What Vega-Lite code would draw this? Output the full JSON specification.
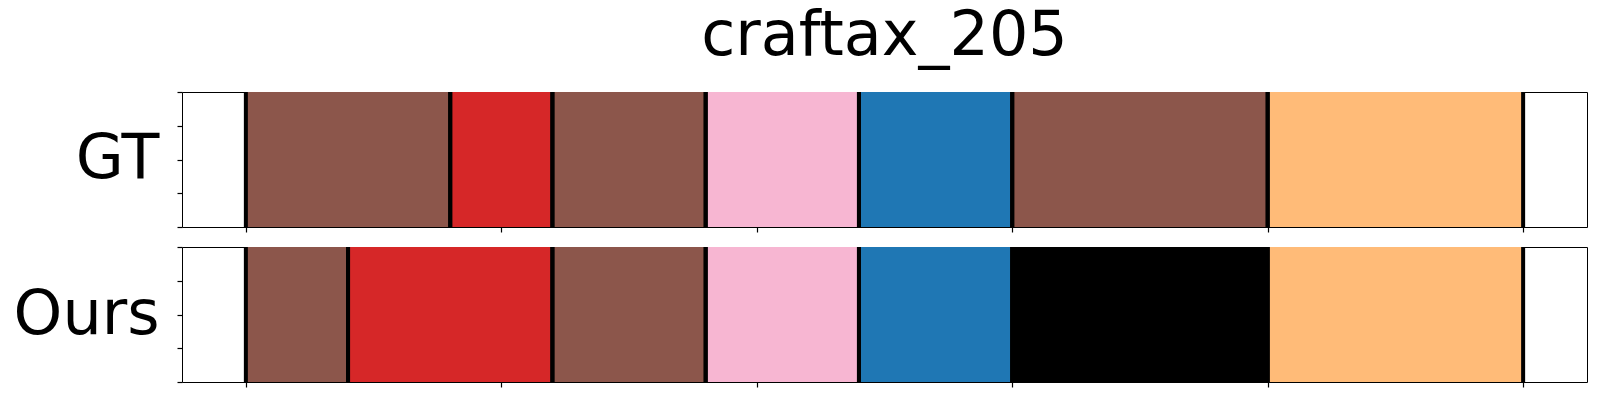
{
  "$schema": "https://vega.github.io/schema/vega-lite/v6.json",
  "background": "white",
  "padding": {"left": 12, "top": 4, "right": 10, "bottom": 0},
  "datasets": {
    "segments": [
      {"panel": "GT", "start": 0, "end": 40, "action": "a10"},
      {"panel": "GT", "start": 40, "end": 60, "action": "a6"},
      {"panel": "GT", "start": 60, "end": 90, "action": "a10"},
      {"panel": "GT", "start": 90, "end": 120, "action": "a12"},
      {"panel": "GT", "start": 120, "end": 150, "action": "a0"},
      {"panel": "GT", "start": 150, "end": 200, "action": "a10"},
      {"panel": "GT", "start": 200, "end": 250, "action": "a3"},
      {"panel": "Ours", "start": 0, "end": 20, "action": "a10"},
      {"panel": "Ours", "start": 20, "end": 60, "action": "a6"},
      {"panel": "Ours", "start": 60, "end": 90, "action": "a10"},
      {"panel": "Ours", "start": 90, "end": 120, "action": "a12"},
      {"panel": "Ours", "start": 120, "end": 150, "action": "a0"},
      {"panel": "Ours", "start": 150, "end": 200, "action": "none"},
      {"panel": "Ours", "start": 200, "end": 250, "action": "a3"}
    ]
  },
  "spacing": 20,
  "bounds": "flush",
  "vconcat": [
    {
      "width": 1405,
      "height": 135,
      "title": {"text": "craftax_205", "fontSize": 62, "font": "DejaVu Sans", "fontWeight": "normal", "color": "black", "anchor": "middle", "frame": "group", "baseline": "alphabetic", "offset": -27},
      "data": {"name": "segments"},
      "transform": [{"filter": "datum.panel === 'GT'"}],
      "encoding": {
        "x": {"field": "start", "type": "quantitative", "scale": {"domain": [-12.5, 262.5], "nice": false, "zero": false},
              "axis": {"values": [0, 50, 100, 150, 200, 250], "labels": false, "title": null, "grid": false, "domain": false, "ticks": true, "tickSize": 5, "tickColor": "black", "tickWidth": 1.2}},
        "y": {"datum": 0, "type": "quantitative", "scale": {"domain": [0, 1], "nice": false},
              "axis": {"values": [0, 0.25, 0.5, 0.75, 1], "tickCount": 5, "labels": false, "grid": false, "domain": false, "tickSize": 5, "tickColor": "black", "tickWidth": 1.2,
                       "title": "GT", "titleAngle": 0, "titleAlign": "right", "titleBaseline": "alphabetic", "titleX": -23, "titleY": 85, "titleFontSize": 62, "titleFont": "DejaVu Sans", "titleFontWeight": "normal", "titleColor": "black"}},
        "y2": {"datum": 1}
      },
      "layer": [
        {
          "mark": {"type": "rect"},
          "encoding": {
            "x2": {"field": "end"},
            "color": {"field": "action", "type": "nominal", "legend": null,
                      "scale": {"domain": ["a0", "a3", "a6", "a10", "a12", "none"], "range": ["#1f77b4", "#ffbb78", "#d62728", "#8c564b", "#f7b6d2", "#000000"]}}
          }
        },
        {
          "mark": {"type": "rule", "color": "black", "strokeWidth": 4},
          "encoding": {}
        },
        {
          "mark": {"type": "rule", "color": "black", "strokeWidth": 4},
          "encoding": {"x": {"field": "end", "type": "quantitative"}}
        }
      ]
    },
    {
      "width": 1405,
      "height": 135,
      "data": {"name": "segments"},
      "transform": [{"filter": "datum.panel === 'Ours'"}],
      "encoding": {
        "x": {"field": "start", "type": "quantitative", "scale": {"domain": [-12.5, 262.5], "nice": false, "zero": false},
              "axis": {"values": [0, 50, 100, 150, 200, 250], "labels": false, "title": null, "grid": false, "domain": false, "ticks": true, "tickSize": 5, "tickColor": "black", "tickWidth": 1.2}},
        "y": {"datum": 0, "type": "quantitative", "scale": {"domain": [0, 1], "nice": false},
              "axis": {"values": [0, 0.25, 0.5, 0.75, 1], "tickCount": 5, "labels": false, "grid": false, "domain": false, "tickSize": 5, "tickColor": "black", "tickWidth": 1.2,
                       "title": "Ours", "titleAngle": 0, "titleAlign": "right", "titleBaseline": "alphabetic", "titleX": -23, "titleY": 86, "titleFontSize": 62, "titleFont": "DejaVu Sans", "titleFontWeight": "normal", "titleColor": "black"}},
        "y2": {"datum": 1}
      },
      "layer": [
        {
          "mark": {"type": "rect"},
          "encoding": {
            "x2": {"field": "end"},
            "color": {"field": "action", "type": "nominal", "legend": null,
                      "scale": {"domain": ["a0", "a3", "a6", "a10", "a12", "none"], "range": ["#1f77b4", "#ffbb78", "#d62728", "#8c564b", "#f7b6d2", "#000000"]}}
          }
        },
        {
          "mark": {"type": "rule", "color": "black", "strokeWidth": 4},
          "encoding": {}
        },
        {
          "mark": {"type": "rule", "color": "black", "strokeWidth": 4},
          "encoding": {"x": {"field": "end", "type": "quantitative"}}
        }
      ]
    }
  ],
  "config": {
    "view": {"stroke": "black", "strokeWidth": 1}
  }
}
